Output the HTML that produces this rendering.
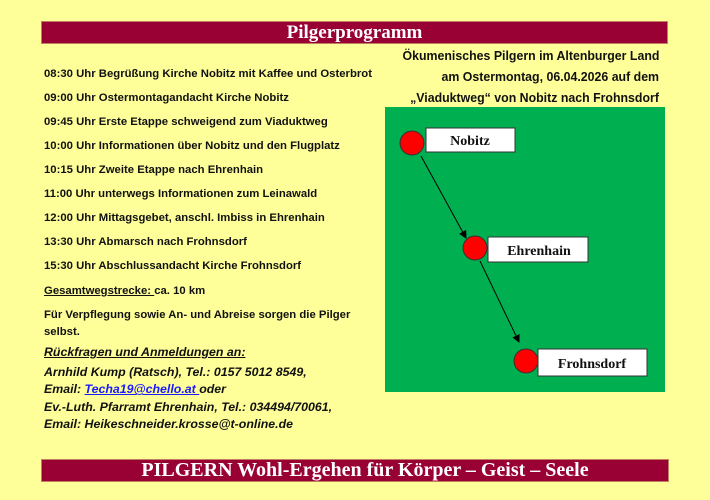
<!DOCTYPE html>
<html><head><meta charset="utf-8"><style>
body{margin:0;width:710px;height:500px;background:#ffff99;position:relative;overflow:hidden;font-family:"Liberation Sans",sans-serif}
.bar{position:absolute;background:#990033;color:#fff;font-family:"Liberation Serif",serif;font-weight:bold;text-align:center;border:1px solid #c08060}
.l{position:absolute;left:44px;font-size:11px;font-weight:bold;color:#111;white-space:nowrap;transform:scaleX(1.03);transform-origin:left center;line-height:14px}
.i{font-style:italic}
.r{position:absolute;right:51px;font-size:13px;font-weight:bold;color:#111;white-space:nowrap;transform:scaleX(0.95);transform-origin:right center;line-height:16px}
</style></head><body>
<div class="bar" style="left:41px;top:21px;width:625px;height:21px;font-size:19px;line-height:21px">Pilgerprogramm</div>
<div class="bar" style="left:41px;top:459px;width:606px;padding-left:20px;height:21px;font-size:20px;line-height:21px">PILGERN Wohl-Ergehen für Körper – Geist – Seele</div>

<div class="r" style="top:48px">Ökumenisches Pilgern im Altenburger Land</div>
<div class="r" style="top:69px">am Ostermontag, 06.04.2026 auf dem</div>
<div class="r" style="top:90px">„Viaduktweg“ von Nobitz nach Frohnsdorf</div>

<div class="l" style="top:67px">08:30 Uhr Begrüßung Kirche Nobitz mit Kaffee und Osterbrot</div>
<div class="l" style="top:91px">09:00 Uhr Ostermontagandacht Kirche Nobitz</div>
<div class="l" style="top:115px">09:45 Uhr Erste Etappe schweigend zum Viaduktweg</div>
<div class="l" style="top:139px">10:00 Uhr Informationen über Nobitz und den Flugplatz</div>
<div class="l" style="top:163px">10:15 Uhr Zweite Etappe nach Ehrenhain</div>
<div class="l" style="top:187px">11:00 Uhr unterwegs Informationen zum Leinawald</div>
<div class="l" style="top:211px">12:00 Uhr Mittagsgebet, anschl. Imbiss in Ehrenhain</div>
<div class="l" style="top:235px">13:30 Uhr Abmarsch nach Frohnsdorf</div>
<div class="l" style="top:259px">15:30 Uhr Abschlussandacht Kirche Frohnsdorf</div>
<div class="l" style="top:284px"><u>Gesamtwegstrecke: </u>ca. 10 km</div>
<div class="l" style="top:308px">Für Verpflegung sowie An- und Abreise sorgen die Pilger</div>
<div class="l" style="top:325px">selbst.</div>
<div class="l i" style="top:345px;font-size:12px"><u>Rückfragen und Anmeldungen an:</u></div>
<div class="l i" style="top:365px;font-size:12px">Arnhild Kump (Ratsch), Tel.: 0157 5012 8549,</div>
<div class="l i" style="top:382px;font-size:12px">Email: <u style="color:#1a1aff">Techa19@chello.at </u>oder</div>
<div class="l i" style="top:400px;font-size:12px">Ev.-Luth. Pfarramt Ehrenhain, Tel.: 034494/70061,</div>
<div class="l i" style="top:417px;font-size:12px">Email: Heikeschneider.krosse@t-online.de</div>

<svg style="position:absolute;left:0;top:0" width="710" height="500">
<defs><marker id="a" markerWidth="8" markerHeight="8" refX="7" refY="4" orient="auto" markerUnits="userSpaceOnUse"><path d="M0,0 L8,4 L0,8 z" fill="#000"/></marker></defs>
<rect x="385" y="107" width="280" height="285" fill="#00b050"/>
<line x1="421" y1="156" x2="466" y2="238" stroke="#000" stroke-width="1" marker-end="url(#a)"/>
<line x1="480" y1="261" x2="519" y2="342" stroke="#000" stroke-width="1" marker-end="url(#a)"/>
<g stroke="#333" stroke-width="1">
<rect x="426" y="128" width="89" height="24" fill="#fff"/>
<rect x="488" y="237" width="100" height="25" fill="#fff"/>
<rect x="538" y="349" width="109" height="27" fill="#fff"/>
<circle cx="412" cy="143" r="12" fill="#f00"/>
<circle cx="475" cy="248" r="12" fill="#f00"/>
<circle cx="526" cy="361" r="12" fill="#f00"/>
</g>
<g font-family="Liberation Serif,serif" font-weight="bold" font-size="14" fill="#111" text-anchor="middle">
<text x="470" y="145">Nobitz</text>
<text x="539" y="255">Ehrenhain</text>
<text x="592" y="368">Frohnsdorf</text>
</g>
</svg>
</body></html>
